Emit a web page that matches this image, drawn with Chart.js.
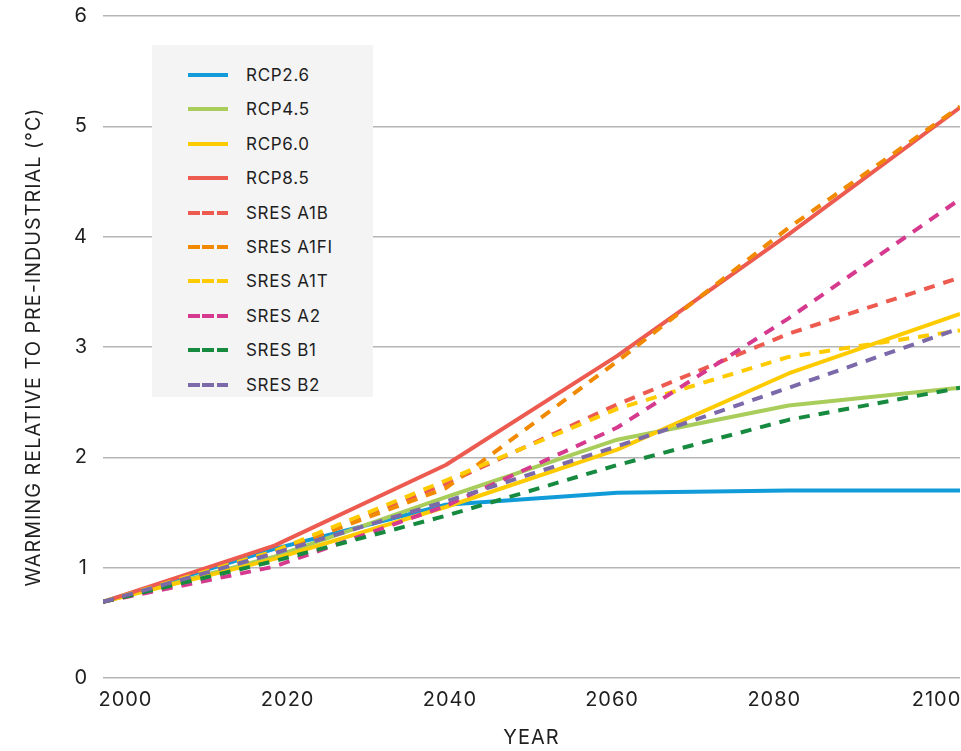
<!DOCTYPE html>
<html>
<head>
<meta charset="utf-8">
<script src="https://cdn.jsdelivr.net/npm/chart.js@4.4.1/dist/chart.umd.min.js"></script>
<style>
  html, body { margin: 0; padding: 0; background: #ffffff; overflow: hidden; }
  #wrap { position: relative; width: 961px; height: 751px; }
  #c { position: absolute; left: 0; top: 0; }
  #legend {
    position: absolute; left: 152px; top: 45px; width: 221px; height: 352px;
    background: #f4f4f4; box-sizing: border-box; padding-top: 19px;
    font-family: Inter, "Noto Sans", sans-serif; font-size: 17px; letter-spacing: 0.7px; color: #1f1f1f;
  }
  .item { position: relative; height: 34.4px; }
  .swatch { position: absolute; left: 36px; top: 9px; width: 40px; height: 4px; display: flex; justify-content: space-between; }
  .swatch span { display: block; height: 4px; }
  .lbl { position: absolute; left: 94px; top: 0px; line-height: 22px; white-space: nowrap; }
</style>
</head>
<body>
<div id="wrap">
  <canvas id="c" width="961" height="751"></canvas>
  <div id="legend"></div>
</div>
<script>
// ---- data ----
const years = [2000, 2020, 2040, 2060, 2080, 2100];
const xTickLabels = [2000, 2020, 2040, 2060, 2080, 2100];
const yTickValues = [0, 1, 2, 3, 4, 5, 6];

const seriesNames = ['RCP2.6', 'RCP4.5', 'RCP6.0', 'RCP8.5', 'SRES A1B', 'SRES A1FI', 'SRES A1T', 'SRES A2', 'SRES B1', 'SRES B2'];

const rcp26   = [0.69, 1.17, 1.57, 1.68, 1.70, 1.70];
const rcp45   = [0.69, 1.10, 1.64, 2.16, 2.47, 2.63];
const rcp60   = [0.69, 1.08, 1.55, 2.07, 2.76, 3.30];
const rcp85   = [0.69, 1.20, 1.93, 2.92, 4.02, 5.17];
const sresA1B = [0.69, 1.14, 1.76, 2.48, 3.12, 3.63];
const sresA1FI= [0.69, 1.14, 1.72, 2.87, 4.08, 5.18];
const sresA1T = [0.69, 1.15, 1.79, 2.44, 2.91, 3.15];
const sresA2  = [0.69, 1.01, 1.56, 2.27, 3.26, 4.34];
const sresB1  = [0.69, 1.06, 1.47, 1.93, 2.34, 2.63];
const sresB2  = [0.69, 1.13, 1.60, 2.10, 2.63, 3.17];

const seriesValues = [rcp26, rcp45, rcp60, rcp85, sresA1B, sresA1FI, sresA1T, sresA2, sresB1, sresB2];
const seriesColors = ['#119bd8', '#a9cd5b', '#fecb00', '#ec5a50', '#ec5a50', '#f18a00', '#fecb00', '#d63a8e', '#168a3e', '#7b69aa'];
const seriesDashed = [false, false, false, false, true, true, true, true, true, true];

// ---- chart ----
const datasets = seriesNames.map((name, i) => ({
  label: name,
  data: years.map((yr, k) => ({ x: yr, y: seriesValues[i][k] })),
  borderColor: seriesColors[i],
  backgroundColor: seriesColors[i],
  borderWidth: 4,
  borderDash: seriesDashed[i] ? [11, 9] : [],
  borderCapStyle: 'butt',
  borderJoinStyle: 'round',
  pointRadius: 0,
  tension: 0,
  fill: false,
  order: seriesNames.length - i,
  xAxisID: 'x',
  yAxisID: 'y'
}));

const FONT = 'Inter, "Noto Sans", sans-serif';
const TXT = '#1f1f1f';

const spacingPlugin = {
  id: 'letterSpacing',
  beforeDraw(chart) { chart.ctx.letterSpacing = '1px'; },
  afterDraw(chart) { chart.ctx.letterSpacing = '0px'; }
};

new Chart(document.getElementById('c'), {
  type: 'line',
  data: { datasets },
  plugins: [spacingPlugin],
  options: {
    responsive: false,
    animation: false,
    devicePixelRatio: 1,
    layout: { padding: { top: 16, right: 1, left: 0, bottom: 0 } },
    plugins: { legend: { display: false }, tooltip: { enabled: false } },
    scales: {
      x: {
        type: 'linear', min: 2000, max: 2100, display: false
      },
      x2: {
        type: 'linear', position: 'bottom',
        min: 1997.23, max: 2102.9,
        grid: { display: false, drawTicks: false },
        border: { display: false },
        afterBuildTicks: (s) => { s.ticks = xTickLabels.map(v => ({ value: v })); },
        afterFit: (s) => { s.height = 73; s.paddingLeft = 0; s.paddingRight = 0; },
        ticks: {
          autoSkip: false, maxRotation: 0, padding: 10,
          color: TXT, font: { family: FONT, size: 20 },
          callback: (v) => String(v)
        },
        title: {
          display: true, text: 'YEAR', color: TXT,
          font: { family: FONT, size: 20 },
          padding: { top: 0, bottom: 1 }
        }
      },
      y: {
        type: 'linear', min: 0, max: 6,
        afterBuildTicks: (s) => { s.ticks = yTickValues.map(v => ({ value: v })); },
        afterFit: (s) => { s.width = 103; s.paddingTop = 0; s.paddingBottom = 0; },
        grid: { color: '#b5b5b5', lineWidth: 1.5, drawTicks: false },
        border: { display: false },
        ticks: {
          padding: 15, color: TXT, font: { family: FONT, size: 20 }
        },
        title: {
          display: true, text: 'WARMING RELATIVE TO PRE-INDUSTRIAL (°C)', color: TXT,
          font: { family: FONT, size: 19.8 },
          padding: { top: 22, bottom: 0 }
        }
      }
    }
  }
});

// ---- legend (HTML, real text) ----
const leg = document.getElementById('legend');
seriesNames.forEach((name, i) => {
  const item = document.createElement('div');
  item.className = 'item';
  const sw = document.createElement('div');
  sw.className = 'swatch';
  const parts = seriesDashed[i] ? [11.5, 11.5, 11.5] : [40];
  parts.forEach(w => {
    const s = document.createElement('span');
    s.style.width = w + 'px';
    s.style.background = seriesColors[i];
    sw.appendChild(s);
  });
  const lb = document.createElement('div');
  lb.className = 'lbl';
  lb.textContent = name;
  item.appendChild(sw);
  item.appendChild(lb);
  leg.appendChild(item);
});
</script>
</body>
</html>
